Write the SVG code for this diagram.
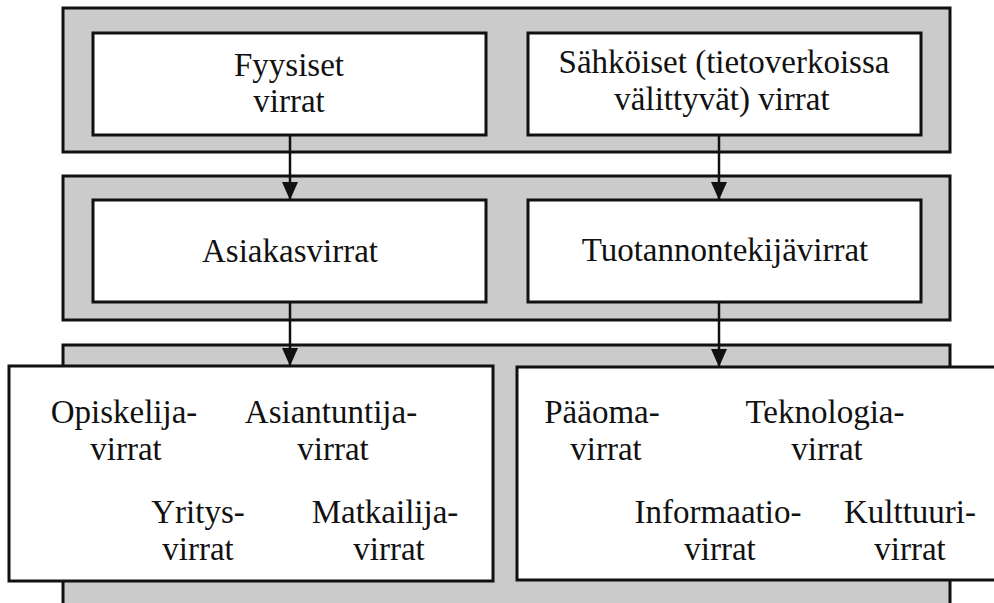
<svg xmlns="http://www.w3.org/2000/svg" width="994" height="603" viewBox="0 0 994 603">
<defs>
<style>
.band{fill:#cbcbcb;stroke:#111;stroke-width:3}
.box{fill:#fff;stroke:#111;stroke-width:3}
.t{font-family:'Liberation Serif','Times New Roman',serif;font-size:33px;fill:#111;text-anchor:middle}
.c{stroke:#111;stroke-width:2.5;fill:none;marker-end:url(#ah)}
</style>
<marker id="ah" markerUnits="userSpaceOnUse" markerWidth="18" markerHeight="16" refX="18" refY="8" orient="auto" viewBox="0 0 18 16">
<path d="M0,0 L18,8 L0,16 Z" fill="#111"/>
</marker>
</defs>
<rect width="994" height="603" fill="#fff"/>
<g id="bands">
<rect class="band" x="63" y="8" width="887" height="144"/>
<rect class="band" x="63" y="176" width="887" height="144"/>
<rect class="band" x="63" y="345" width="887" height="280"/>
</g>
<g id="fyysiset">
<rect class="box" x="93" y="33" width="393" height="102"/>
<text class="t" x="289" y="76">Fyysiset</text>
<text class="t" x="289" y="112">virrat</text>
</g>
<g id="sahkoiset">
<rect class="box" x="528" y="33" width="393" height="102"/>
<text class="t" x="724" y="73">Sähköiset (tietoverkoissa</text>
<text class="t" x="722" y="110">välittyvät) virrat</text>
</g>
<g id="asiakasvirrat">
<rect class="box" x="93" y="200" width="393" height="102"/>
<text class="t" x="290" y="262">Asiakasvirrat</text>
</g>
<g id="tuotannontekijavirrat">
<rect class="box" x="528" y="200" width="393" height="102"/>
<text class="t" x="725" y="261">Tuotannontekijävirrat</text>
</g>
<g id="asiakas-lista">
<rect class="box" x="9" y="366" width="484" height="215"/>
<text class="t" x="124" y="423">Opiskelija-</text>
<text class="t" x="126" y="460">virrat</text>
<text class="t" x="331" y="423">Asiantuntija-</text>
<text class="t" x="333" y="460">virrat</text>
<text class="t" x="198" y="523">Yritys-</text>
<text class="t" x="198" y="560">virrat</text>
<text class="t" x="385" y="523">Matkailija-</text>
<text class="t" x="389" y="560">virrat</text>
</g>
<g id="tuotanto-lista">
<rect class="box" x="517" y="367" width="500" height="213"/>
<text class="t" x="602" y="423">Pääoma-</text>
<text class="t" x="606" y="460">virrat</text>
<text class="t" x="825" y="423">Teknologia-</text>
<text class="t" x="827" y="460">virrat</text>
<text class="t" x="718" y="523">Informaatio-</text>
<text class="t" x="720" y="560">virrat</text>
<text class="t" x="910" y="523">Kulttuuri-</text>
<text class="t" x="910" y="560">virrat</text>
</g>
<g id="connectors">
<line class="c" x1="290" y1="135" x2="290" y2="200"/>
<line class="c" x1="719" y1="135" x2="719" y2="200"/>
<line class="c" x1="290" y1="302" x2="290" y2="366"/>
<line class="c" x1="719" y1="302" x2="719" y2="367"/>
</g>
</svg>
